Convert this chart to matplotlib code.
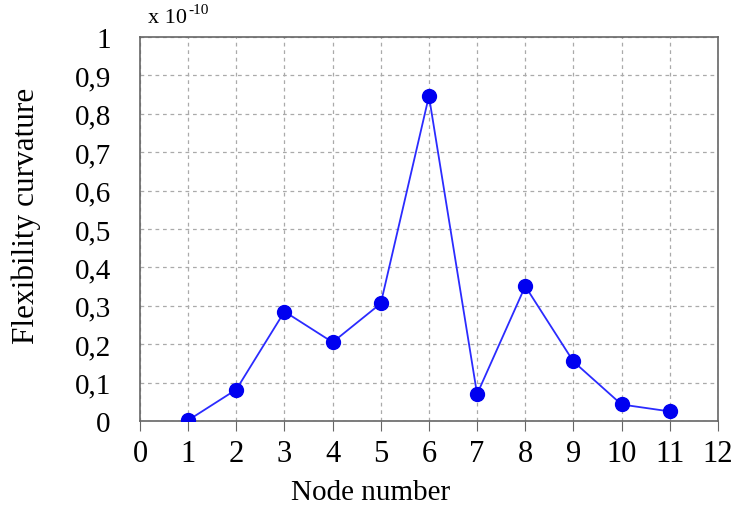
import matplotlib
matplotlib.use('Agg')
import matplotlib.pyplot as plt
from matplotlib.ticker import FuncFormatter

# Werte (x 1e-10)
nodes = [1, 2, 3, 4, 5, 6, 7, 8, 9, 10, 11]
curvature = [0.002, 0.082, 0.285, 0.205, 0.306, 0.846, 0.070, 0.351, 0.155, 0.043, 0.025]

x_ticks = list(range(0, 13))
y_ticks = [i / 10 for i in range(0, 11)]

plt.rcParams['font.family'] = ['Liberation Serif', 'DejaVu Serif']

fig = plt.figure(figsize=(7.37, 5.06), dpi=100)
ax = fig.add_axes([0.19, 0.166, 0.784, 0.759])

ax.plot(nodes, curvature, color='#2b2bff', linewidth=1.3, marker='o',
        markersize=10, markerfacecolor='#0000f0', markeredgecolor='#0000f0', zorder=3)

ax.set_xlim(0, 12)
ax.set_ylim(0, 1)
ax.set_xticks(x_ticks)
ax.set_yticks(y_ticks)

def komma(v, pos):
    if v == 0:
        return '0'
    if v == 1:
        return '1'
    return ('%.1f' % v).replace('.', ',')

ax.yaxis.set_major_formatter(FuncFormatter(komma))
ax.grid(True, linestyle=(0, (3, 3)), color='#aaaaaa', linewidth=0.9)

for s in ax.spines.values():
    s.set_color('#666666')
    s.set_linewidth(1.2)

ax.tick_params(axis='x', direction='out', length=7, color='#666666', labelsize=22, pad=6)
ax.tick_params(axis='y', length=0, labelsize=21, pad=21)

ax.set_xlabel('Node number', fontsize=21)
ax.set_ylabel('Flexibility curvature', fontsize=22.5)
# Achsentitel sitzen im Original etwas versetzt
ax.xaxis.set_label_coords(0.399, -0.151)
ax.yaxis.set_label_coords(-0.172, 0.538)

# Exponent oben links
ax.annotate('x 10', xy=(0, 1), xycoords='axes fraction', xytext=(6, 7),
            textcoords='offset points', fontsize=16, ha='left', va='bottom')
ax.annotate('-10', xy=(0, 1), xycoords='axes fraction', xytext=(35, 15),
            textcoords='offset points', fontsize=11, ha='left', va='bottom')

fig.savefig('out.png', dpi=100)
